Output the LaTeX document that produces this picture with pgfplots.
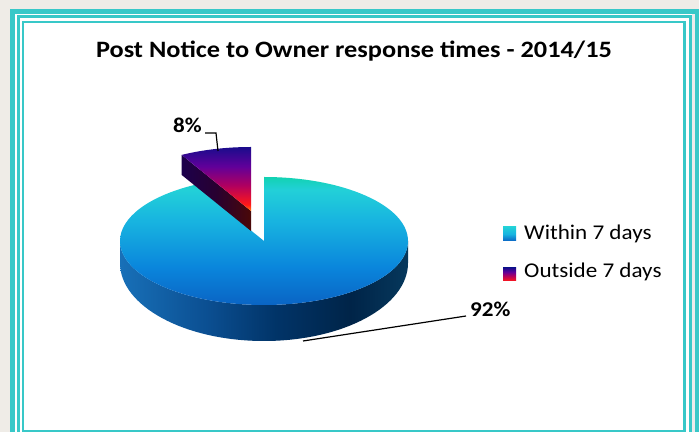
\documentclass[border=0pt]{standalone}
\usepackage{pgfplots}
\pgfplotsset{compat=1.18}
\usepackage{pgfplotstable}
\usepackage{fontspec}
\setmainfont{Carlito}
\usepackage{graphicx}
\usetikzlibrary{calc}

\definecolor{framec}{HTML}{38C8C8}
\definecolor{bgc}{HTML}{EFECE7}
\definecolor{bta}{HTML}{0A64C4}
\definecolor{btb}{HTML}{0A86DC}
\definecolor{btc}{HTML}{18B4E0}
\definecolor{btd}{HTML}{22D0D8}
\definecolor{bte}{HTML}{12D2B2}
\definecolor{bsa}{HTML}{1870B8}
\definecolor{bsb}{HTML}{0B4F92}
\definecolor{bsc}{HTML}{013468}
\definecolor{bsd}{HTML}{002448}
\definecolor{bse}{HTML}{06385C}
\definecolor{sta}{HTML}{FF8010}
\definecolor{stb}{HTML}{FF1818}
\definecolor{stc}{HTML}{B00060}
\definecolor{std}{HTML}{60009A}
\definecolor{ste}{HTML}{1A0C8C}
\definecolor{ssa}{HTML}{1C004C}
\definecolor{ssb}{HTML}{280030}
\definecolor{ssc}{HTML}{4A0808}

\pgfdeclareverticalshading{bigtop}{100bp}{color(0bp)=(bta); color(25bp)=(bta); color(40bp)=(btb); color(58bp)=(btc); color(70bp)=(btd); color(75bp)=(bte); color(100bp)=(bte)}
\pgfdeclarehorizontalshading{bigside}{100bp}{color(0bp)=(bsa); color(25bp)=(bsa); color(40bp)=(bsb); color(52bp)=(bsc); color(65bp)=(bsd); color(75bp)=(bse); color(100bp)=(bse)}
\pgfdeclareverticalshading{smalltop}{100bp}{color(0bp)=(sta); color(25bp)=(sta); color(30bp)=(stb); color(45bp)=(stc); color(60bp)=(std); color(75bp)=(ste); color(100bp)=(ste)}
\pgfdeclarehorizontalshading{smallside}{100bp}{color(0bp)=(ssa); color(25bp)=(ssa); color(50bp)=(ssb); color(75bp)=(ssc); color(100bp)=(ssc)}
\pgfdeclareverticalshading{legA}{100bp}{color(0bp)=(bta); color(25bp)=(bta); color(50bp)=(btc); color(75bp)=(btd); color(100bp)=(btd)}
\pgfdeclareverticalshading{legB}{100bp}{color(0bp)=(sta); color(25bp)=(stb); color(45bp)=(stc); color(60bp)=(std); color(75bp)=(ste); color(100bp)=(ste)}

\pgfplotstableread{
share value
Within 92
Outside 8
}\piedata
\pgfplotstablegetelem{1}{value}\of\piedata
\pgfmathsetmacro{\angB}{90+3.6*\pgfplotsretval}
\pgfplotstablegetelem{0}{value}\of\piedata
\pgfmathsetmacro{\angA}{90-3.6*\pgfplotsretval}

\begin{document}
\begin{tikzpicture}
\begin{axis}[width=699bp,height=432bp,scale only axis,xmin=0,xmax=699,ymin=0,ymax=432,hide axis,clip=false]
% background and frame
\fill[bgc] (axis cs:0,0) rectangle (axis cs:699,432);
\fill[white] (axis cs:12.5,-10) rectangle (axis cs:697,420.5);
\fill[black!8] (axis cs:692,-10) rectangle (axis cs:696,418);
\draw[framec,line width=4.5bp] (axis cs:12.5,-10) -- (axis cs:12.5,420.5) -- (axis cs:697.5,420.5) -- (axis cs:697.5,-10);
\draw[framec,line width=3bp] (axis cs:18,-10) -- (axis cs:18,415.5) -- (axis cs:690.5,415.5) -- (axis cs:690.5,-10);
\draw[framec,line width=2.5bp] (axis cs:23,1.2) rectangle (axis cs:684.5,410);
% title
\node[anchor=base,inner sep=0pt,font=\bfseries\fontsize{23.5bp}{28bp}\selectfont] at (axis cs:354,374) {\scalebox{1.12}[1]{Post Notice to Owner response times - 2014/15}};
% pie: big slice
\coordinate (C) at (axis cs:264,191);
\coordinate (CB) at (axis cs:264,169);
\shade[shading=bigside] ($(C)+(-144bp,0)$) arc[start angle=180,end angle=360,x radius=144bp,y radius=64bp] -- ($(CB)+(144bp,0)$) arc[start angle=0,end angle=-180,x radius=144bp,y radius=78bp] -- cycle;
\shade[shading=bigtop] (C) -- ($(C)+(0,64bp)$) arc[start angle=90,end angle=\angA,x radius=144bp,y radius=64bp] -- cycle;
% small slice (exploded)
\coordinate (S) at ($(C)+(-13bp,30bp)$);
\shade[shading=smallside] (S) -- ($(S)+(\angB:144bp and 64bp)$) -- ++(0,-20bp) -- ($(S)+(0,-20bp)$) -- cycle;
\shade[shading=smalltop] (S) -- ($(S)+(0,64bp)$) arc[start angle=90,end angle=\angB,x radius=144bp,y radius=64bp] -- cycle;
% data labels
\draw[black,line width=1.2bp] (axis cs:205,299) -- (axis cs:216,299) -- (axis cs:218,281);
\node[anchor=base west,inner sep=0pt,font=\bfseries\fontsize{21bp}{25bp}\selectfont] at (axis cs:173,299) {\scalebox{1.1}[1]{8\%}};
\draw[black,line width=1.2bp] (axis cs:303,91) -- (axis cs:466,116);
\node[anchor=base west,inner sep=0pt,font=\bfseries\fontsize{21bp}{25bp}\selectfont] at (axis cs:470,115) {\scalebox{1.1}[1]{92\%}};
% legend
\shade[shading=legA] (axis cs:503,191) rectangle (axis cs:516,205);
\shade[shading=legB] (axis cs:503,151) rectangle (axis cs:516,164);
\node[anchor=base west,inner sep=0pt,font=\fontsize{21bp}{25bp}\selectfont] at (axis cs:524,192) {\scalebox{1.1}[1]{Within 7 days}};
\node[anchor=base west,inner sep=0pt,font=\fontsize{21bp}{25bp}\selectfont] at (axis cs:524,154) {\scalebox{1.1}[1]{Outside 7 days}};
\end{axis}
\pgfresetboundingbox
\path (0,0) rectangle (699bp,432bp);
\end{tikzpicture}
\end{document}
